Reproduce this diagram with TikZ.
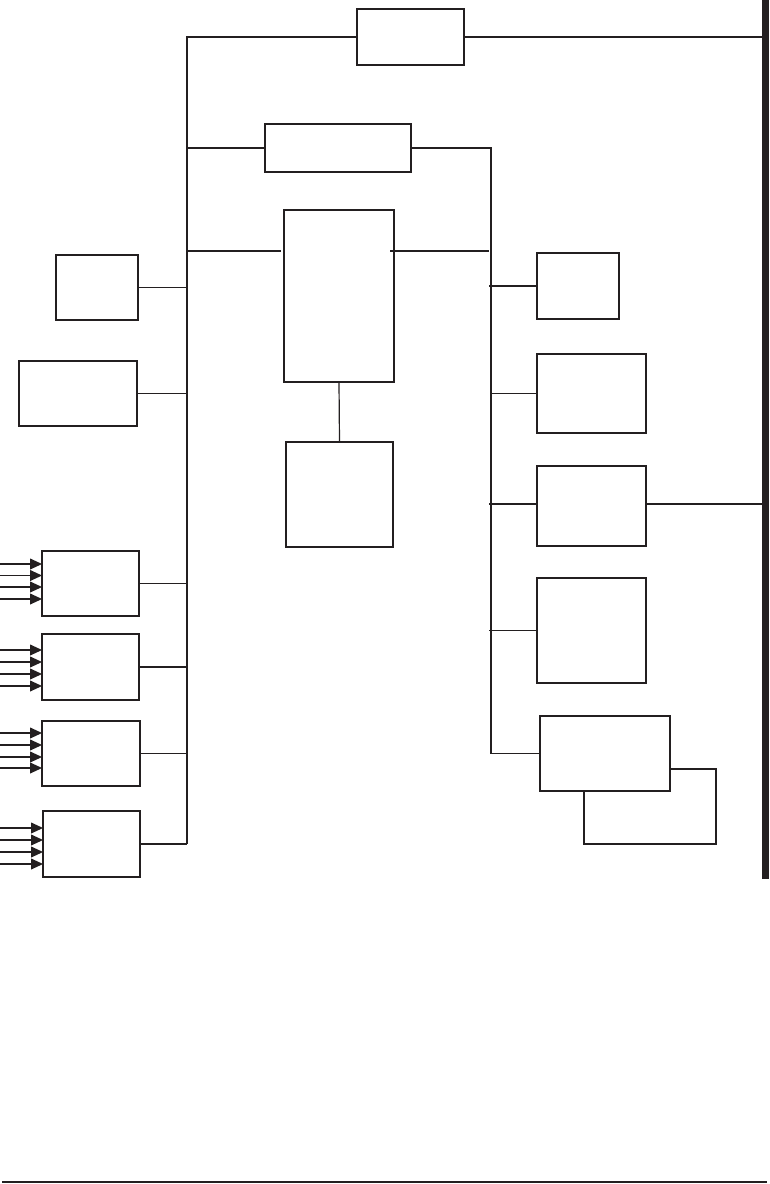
\documentclass[tikz,border=0pt]{standalone}
\definecolor{ink}{RGB}{35,31,32}
\newcommand\bx[5]{\node[box, minimum width=#4pt, minimum height=#5pt] (#1) at (#2,#3) {};}
\newcommand\inarrow[2]{\coordinate (tip) at (#1.west |- 0,#2);
  \draw[wire] (0,#2) -- ([xshift=-8pt]tip);
  \fill[ink] (tip) -- ++(-12,5.6) -- ++(0,-11.2) -- cycle;}
\begin{document}
\begin{tikzpicture}[x=1pt,y=-1pt,
  box/.style={draw=ink, line width=1.2pt, fill=white, inner sep=0pt, outer sep=0pt, rectangle},
  wire/.style={draw=ink, line width=1.2pt}]
\useasboundingbox (0,0) rectangle (769,1184);
% right thick bar
\node[fill=ink, draw=none, inner sep=0pt, outer sep=0pt, minimum width=7pt, minimum height=879pt, anchor=north east] (bar) at (769,0) {};
% boxes
\bx{T}{410.5}{37}{107}{56}
\bx{M2}{338}{148}{146}{48}
\bx{C}{339}{296}{110}{172}
\bx{CB}{339.5}{494.5}{107}{105}
\bx{R1}{578}{286}{82}{66}
\bx{R2}{591.5}{393.5}{109}{79}
\bx{R3}{591.5}{506}{109}{80}
\bx{R4}{591.5}{630.5}{109}{105}
\bx{R6}{650}{806.5}{132}{75}
\bx{R5}{605}{753.5}{130}{75}
\bx{L1}{97}{287.5}{82}{65}
\bx{L2}{78}{393.5}{118}{65}
\bx{L3}{90.5}{583.5}{97}{65}
\bx{L4}{90.5}{667}{97}{66}
\bx{L5}{91}{753.5}{98}{65}
\bx{L6}{91.5}{844}{97}{66}
% bus coordinates
\coordinate (lbTop) at (187,37);
\coordinate (lbBot) at (L6.east -| lbTop);
\coordinate (rbTop) at (491,148);
\coordinate (rbBot) at (R5.west -| rbTop);
\coordinate (cL) at (281,251);
\coordinate (cR) at (390,251);
% top connections
\draw[wire] (T.west) -- (lbTop) -- (lbBot);
\draw[wire] (T.east) -- (T.east -| bar.west);
\draw[wire] (M2.west) -- (M2.west -| lbTop);
\draw[wire] (M2.east) -- (rbTop) -- (rbBot);
% center box
\draw[wire] (cL -| lbTop) -- (cL);
\draw[wire] (cR) -- ([xshift=-2pt]cR -| rbTop);
\draw[wire] (C.south) -- (CB.north);
% right side
\draw[wire] ([xshift=-2pt]R1.west -| rbTop) -- (R1.west);
\draw[wire] (R2.west -| rbTop) -- (R2.west);
\draw[wire] ([xshift=-2pt,yshift=2pt]R3.west -| rbTop) -- ([yshift=2pt]R3.west);
\draw[wire] ([yshift=2pt]R3.east) -- ([yshift=2pt]R3.east -| bar.west);
\draw[wire] ([xshift=-2pt]R4.west -| rbTop) -- (R4.west);
\draw[wire] (rbBot) -- (R5.west);
% left side
\foreach \n in {L1,L2,L3,L4,L5,L6} \draw[wire] (\n.east) -- (\n.east -| lbTop);
% input arrows
\foreach \y in {564,575.5,587,599} {\inarrow{L3}{\y}}
\foreach \y in {650,662,674,686} {\inarrow{L4}{\y}}
\foreach \y in {733,745,757,768} {\inarrow{L5}{\y}}
\foreach \y in {828,840,852,864} {\inarrow{L6}{\y}}
% bottom rule
\coordinate (bl) at (2,1182);
\coordinate (br) at (767,1182);
\draw[draw=ink, line width=1.5pt] (bl) -- (br);
\end{tikzpicture}
\end{document}
